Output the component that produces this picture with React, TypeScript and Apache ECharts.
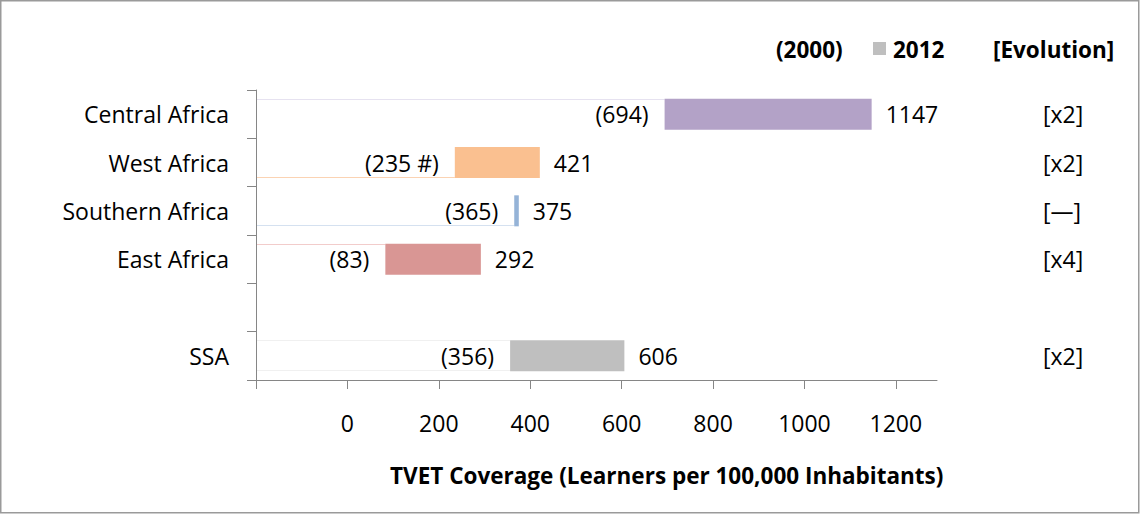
import React, { useEffect, useRef } from 'react';
import * as echarts from 'echarts';

const categories = ['Central Africa', 'West Africa', 'Southern Africa', 'East Africa', '', 'SSA'];
const values2000: (number | null)[] = [694, 235, 365, 83, null, 356];
const values2012: (number | null)[] = [1147, 421, 375, 292, null, 606];
const labels2000 = ['(694)', '(235 #)', '(365)', '(83)', '', '(356)'];
const evolution = ['[x2]', '[x2]', '[—]', '[x4]', '', '[x2]'];
const xTickValues = [-200, 0, 200, 400, 600, 800, 1000, 1200];
const xLabelValues = [0, 200, 400, 600, 800, 1000, 1200];
const axisMin = -200;
const axisMax = 1290;

const barColors = ['#b3a2c7', '#fac090', '#95b3d7', '#d99694', '#ffffff', '#bfbfbf'];
const paleColors = ['#e6e2f0', '#fbd3b3', '#d5e1f0', '#f2cccb', '#ffffff', '#f0f0f0'];
const paleEdges = ['top', 'bottom', 'bottom', 'top', '', 'both'];

const FONT = '"Open Sans", "Noto Sans", sans-serif';
const FS = 23;
const BFS = 22.5;

export default function App() {
  const ref = useRef<HTMLDivElement>(null);
  useEffect(() => {
    if (!ref.current) return;
    const chart = echarts.init(ref.current, null, { renderer: 'svg' });
    const diffs = values2012.map((v, i) => (v == null || values2000[i] == null ? null : (v as number) - (values2000[i] as number)));
    const baseData = values2000.map((v, i) => (v == null ? null : [v, i]));
    chart.setOption({
      animation: false,
      textStyle: { fontFamily: FONT },
      grid: { left: 256, right: 203, top: 90, bottom: 134, containLabel: false },
      xAxis: {
        type: 'value',
        min: axisMin,
        max: axisMax,
        interval: 200,
        splitLine: { show: false },
        axisLine: { show: true, onZero: false, lineStyle: { color: '#868686', width: 1 } },
        axisTick: { show: true, length: 9, customValues: xTickValues, lineStyle: { color: '#868686' } },
        axisLabel: {
          customValues: xLabelValues,
          margin: 31,
          color: '#000',
          fontSize: FS,
          fontFamily: FONT,
          formatter: (v: number) => String(v),
        },
      },
      yAxis: [
        {
          type: 'category',
          data: categories,
          inverse: true,
          axisLine: { show: true, onZero: false, lineStyle: { color: '#868686', width: 1 } },
          axisTick: { show: true, length: 9, lineStyle: { color: '#868686' } },
          axisLabel: { margin: 27, color: '#000', fontSize: FS, fontFamily: FONT },
        },
        {
          type: 'category',
          data: evolution,
          inverse: true,
          position: 'right',
          axisLine: { show: false, onZero: false },
          axisTick: { show: false },
          axisLabel: { margin: 106, align: 'left', color: '#000', fontSize: FS, fontFamily: FONT },
        },
      ],
      series: [
        {
          type: 'custom',
          z: 1,
          silent: true,
          data: baseData,
          encode: { x: 0, y: 1 },
          renderItem: (params: any, api: any) => {
            const idx = params.dataIndex;
            const cat = api.value(1);
            const start = api.coord([axisMin, cat]);
            const end = api.coord([api.value(0), cat]);
            const x1 = start[0] + 1;
            const x2 = end[0];
            const top = Math.round(start[1] - 15.5) + 0.5;
            const bottom = Math.round(start[1] + 15.5) - 0.5;
            const edge = paleEdges[idx];
            const children: any[] = [];
            const st = { stroke: paleColors[idx], lineWidth: 1 };
            if (edge === 'top' || edge === 'both') {
              children.push({ type: 'line', shape: { x1, y1: top, x2, y2: top }, style: st });
            }
            if (edge === 'bottom' || edge === 'both') {
              children.push({ type: 'line', shape: { x1, y1: bottom, x2, y2: bottom }, style: st });
            }
            return { type: 'group', children };
          },
        },
        {
          type: 'bar',
          stack: 'a',
          barWidth: 31,
          z: 2,
          data: values2000,
          itemStyle: { color: 'rgba(0,0,0,0)' },
          label: {
            show: true,
            position: 'insideRight',
            distance: 16,
            color: '#000',
            fontSize: FS,
            fontFamily: FONT,
            formatter: (p: any) => labels2000[p.dataIndex],
          },
        },
        {
          type: 'bar',
          stack: 'a',
          barWidth: 31,
          z: 3,
          data: diffs.map((d, i) => (d == null ? null : { value: d, itemStyle: { color: barColors[i] } })),
          label: {
            show: true,
            position: 'right',
            distance: 14,
            color: '#000',
            fontSize: FS,
            fontFamily: FONT,
            formatter: (p: any) => String(values2012[p.dataIndex]),
          },
        },
      ],
      graphic: [
        {
          type: 'rect',
          shape: { x: 0.75, y: 0.75, width: 1138, height: 512 },
          style: { fill: 'none', stroke: '#9a9a9a', lineWidth: 1.5 },
          silent: true,
        },
        {
          type: 'text',
          x: 776,
          y: 49,
          style: { text: '(2000)', font: `bold ${BFS}px ${FONT}`, fill: '#000', textVerticalAlign: 'middle' },
        },
        {
          type: 'rect',
          shape: { x: 873, y: 42, width: 13, height: 13 },
          style: { fill: '#bfbfbf' },
        },
        {
          type: 'text',
          x: 893,
          y: 49,
          style: { text: '2012', font: `bold ${BFS}px ${FONT}`, fill: '#000', textVerticalAlign: 'middle' },
        },
        {
          type: 'text',
          x: 993,
          y: 49,
          style: { text: '[Evolution]', font: `bold ${BFS}px ${FONT}`, fill: '#000', textVerticalAlign: 'middle' },
        },
        {
          type: 'text',
          x: 390,
          y: 475,
          style: {
            text: 'TVET Coverage (Learners per 100,000 Inhabitants)',
            font: `bold ${BFS}px ${FONT}`,
            fill: '#000',
            textVerticalAlign: 'middle',
          },
        },
      ],
    });
    return () => chart.dispose();
  }, []);
  return (
    <div
      ref={ref}
      style={{ position: 'absolute', left: 0, top: 0, width: 1140, height: 514, background: '#fff' }}
    />
  );
}
